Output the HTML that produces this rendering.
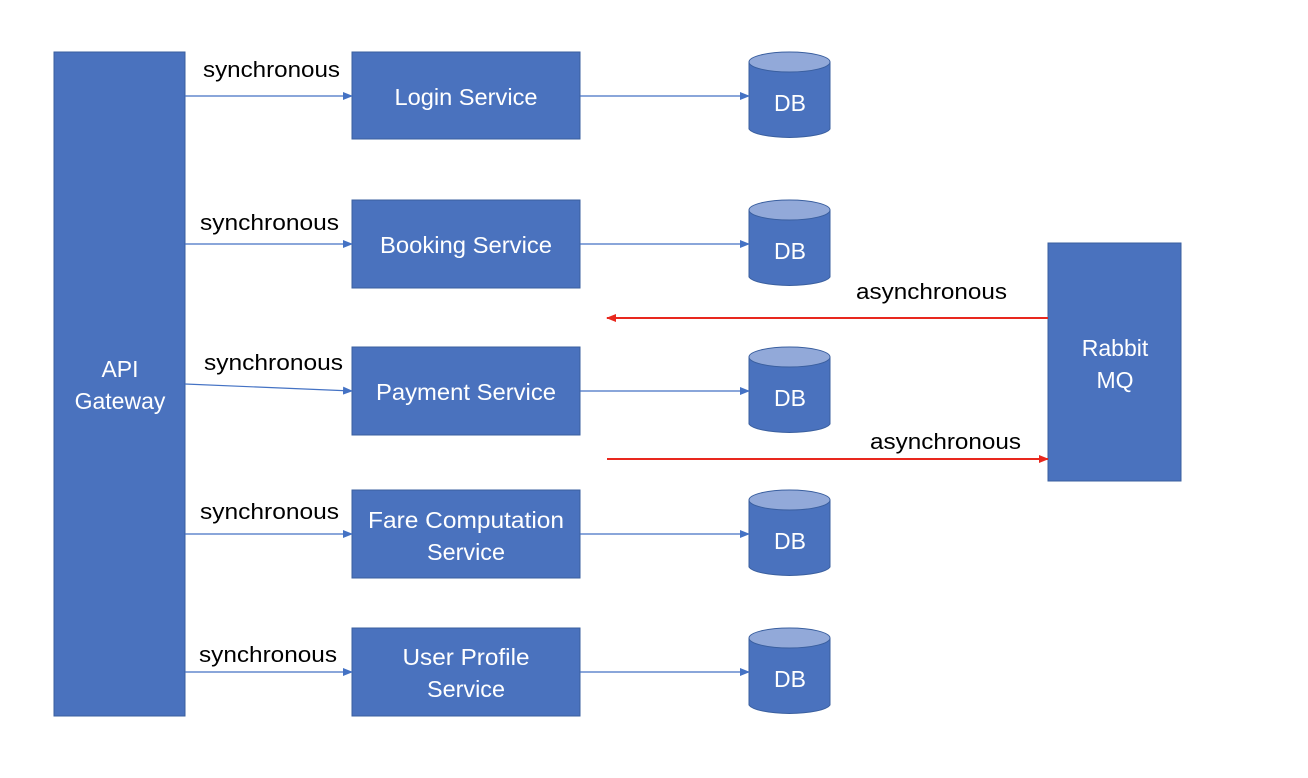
<!DOCTYPE html>
<html><head><style>body{margin:0;background:#fff}svg{display:block}</style></head><body>
<svg width="1308" height="778" xmlns="http://www.w3.org/2000/svg" font-family="Liberation Sans, sans-serif">
<defs>
<marker id="b" markerWidth="10" markerHeight="8" refX="9" refY="4" orient="auto" markerUnits="userSpaceOnUse"><path d="M0,0 L10,4 L0,8z" fill="#4472c4"/></marker>
<marker id="r" markerWidth="10" markerHeight="8" refX="9" refY="4" orient="auto" markerUnits="userSpaceOnUse"><path d="M0,0 L10,4 L0,8z" fill="#e8281e"/></marker>
</defs>
<g fill="#4a72be" stroke="#3a5f9f" stroke-width="1">
<rect x="54" y="52" width="131" height="664"/>
<rect x="1048" y="243" width="133" height="238"/>
<rect x="352" y="52" width="228" height="87"/>
<rect x="352" y="200" width="228" height="88"/>
<rect x="352" y="347" width="228" height="88"/>
<rect x="352" y="490" width="228" height="88"/>
<rect x="352" y="628" width="228" height="88"/>
</g>
<g stroke="#3a5f9f" stroke-width="1">
<g id="c"><path d="M749,62 V129 A41,10 0 0 0 830,129 V62" fill="#4a72be"/><ellipse cx="789.5" cy="62" rx="40.5" ry="10" fill="#92a9d9"/></g>
<use href="#c" y="148"/><use href="#c" y="295"/><use href="#c" y="438"/><use href="#c" y="576"/>
</g>
<g stroke="#4472c4" stroke-width="1.2" marker-end="url(#b)">
<line x1="185" y1="96" x2="352" y2="96"/><line x1="580" y1="96" x2="749" y2="96"/>
<line x1="185" y1="244" x2="352" y2="244"/><line x1="580" y1="244" x2="749" y2="244"/>
<line x1="185" y1="384" x2="352" y2="391"/><line x1="580" y1="391" x2="749" y2="391"/>
<line x1="185" y1="534" x2="352" y2="534"/><line x1="580" y1="534" x2="749" y2="534"/>
<line x1="185" y1="672" x2="352" y2="672"/><line x1="580" y1="672" x2="749" y2="672"/>
</g>
<g stroke="#e8281e" stroke-width="2" marker-end="url(#r)">
<line x1="1048" y1="318" x2="607" y2="318"/><line x1="607" y1="459" x2="1048" y2="459"/>
</g>
<g fill="#fff" font-size="23" text-anchor="middle">
<text x="120" y="377">API</text><text x="120" y="409">Gateway</text>
<text x="1115" y="356">Rabbit</text><text x="1115" y="388">MQ</text>
<text x="466" y="105" textLength="143" lengthAdjust="spacingAndGlyphs">Login Service</text>
<text x="466" y="253" textLength="172" lengthAdjust="spacingAndGlyphs">Booking Service</text>
<text x="466" y="400" textLength="180" lengthAdjust="spacingAndGlyphs">Payment Service</text>
<text x="466" y="528" textLength="196" lengthAdjust="spacingAndGlyphs">Fare Computation</text><text x="466" y="560" textLength="78" lengthAdjust="spacingAndGlyphs">Service</text>
<text x="466" y="665" textLength="127" lengthAdjust="spacingAndGlyphs">User Profile</text><text x="466" y="697" textLength="78" lengthAdjust="spacingAndGlyphs">Service</text>
<text x="790" y="111">DB</text><text x="790" y="259">DB</text><text x="790" y="406">DB</text><text x="790" y="549">DB</text><text x="790" y="687">DB</text>
</g>
<g fill="#000" font-size="22">
<text x="203" y="77" textLength="137" lengthAdjust="spacingAndGlyphs">synchronous</text>
<text x="200" y="230" textLength="139" lengthAdjust="spacingAndGlyphs">synchronous</text>
<text x="204" y="370" textLength="139" lengthAdjust="spacingAndGlyphs">synchronous</text>
<text x="200" y="519" textLength="139" lengthAdjust="spacingAndGlyphs">synchronous</text>
<text x="199" y="662" textLength="138" lengthAdjust="spacingAndGlyphs">synchronous</text>
<text x="856" y="299" textLength="151" lengthAdjust="spacingAndGlyphs">asynchronous</text>
<text x="870" y="449" textLength="151" lengthAdjust="spacingAndGlyphs">asynchronous</text>
</g>
</svg>
</body></html>
